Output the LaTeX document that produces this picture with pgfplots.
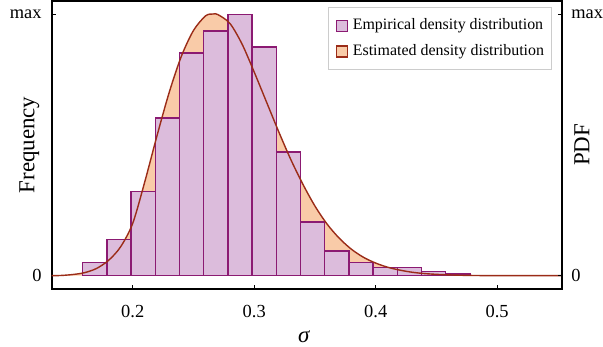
\documentclass[border=0pt]{standalone}
\usepackage{fontspec}
\setmainfont{Liberation Serif}
\usepackage{pgfplots}
\usepackage{pgfplotstable}
\pgfplotsset{compat=1.18}
\definecolor{barfill}{HTML}{DCBCDC}
\definecolor{baredge}{HTML}{8B1A72}
\definecolor{estfill}{HTML}{F9CBA8}
\definecolor{curvec}{HTML}{9B2C18}

\pgfplotstableread{
x y
0.15886 0.050
0.17878 0.139
0.19870 0.321
0.21861 0.603
0.23853 0.851
0.25845 0.935
0.27837 0.999
0.29829 0.874
0.31820 0.473
0.33812 0.206
0.35804 0.095
0.37796 0.050
0.39788 0.031
0.41779 0.031
0.43771 0.015
0.45763 0.0065
0.47755 0
}\bins

\pgfplotstableread{
x y
0.120 0
0.130 0
0.140 0.0005
0.150 0.004
0.160 0.011
0.170 0.027
0.180 0.058
0.190 0.110
0.200 0.200
0.210 0.360
0.220 0.535
0.230 0.700
0.240 0.838
0.250 0.937
0.260 0.993
0.2663 1.000
0.270 0.998
0.280 0.964
0.290 0.885
0.300 0.778
0.310 0.665
0.320 0.552
0.330 0.445
0.340 0.350
0.350 0.266
0.360 0.197
0.370 0.143
0.380 0.101
0.390 0.070
0.400 0.048
0.410 0.032
0.420 0.021
0.430 0.013
0.440 0.008
0.450 0.005
0.460 0.003
0.470 0.0015
0.480 0.0007
0.490 0.0002
0.500 0
0.570 0
}\curve

\begin{document}
\begin{tikzpicture}
\pgfplotsset{
  common/.style={
    scale only axis, width=510bp, height=288bp,
    xmin=0.1333, xmax=0.5530, ymin=-0.0508, ymax=1.0497,
    ytick={0,1}, yticklabels={0,max},
    tick align=inside, major tick length=4bp,
    tick style={black, line width=1bp},
    axis line style={black, line width=2bp},
    tick label style={font=\fontsize{18.5}{20}\selectfont},
    label style={font=\fontsize{23}{26}\selectfont},
    /pgf/number format/assume math mode=true,
  }
}
\begin{axis}[common,
  xtick={0.2,0.3,0.4,0.5}, xtick pos=bottom,
  xticklabel style={anchor=base, yshift=-29bp},
  xticklabels={0.2,0.3,0.4,0.5},
  ytick pos=left,
  yticklabel style={anchor=east, inner sep=0pt, xshift=-10bp},
  xlabel={\textit{σ}},
  xlabel style={at={(axis description cs:0.5,0)}, anchor=base, yshift=-54bp, xshift=-2.5bp},
  ylabel={Frequency},
  ylabel style={at={(axis description cs:-0.0341,0.5)}, anchor=base},
  legend style={at={(axis description cs:0.9804,0.978)}, anchor=north east,
    draw=gray!40, line width=1bp, fill=white,
    font=\fontsize{16}{18}\selectfont,
    inner xsep=7bp, inner ysep=11bp, row sep=10.8bp,
    nodes={inner sep=0pt, text height=11bp, text depth=3.5bp},
    column sep=5bp},
  legend cell align=left,
  legend image code/.code={\draw[#1, line width=1.3bp] (0bp,-5.5bp) rectangle (11bp,5.5bp);},
]
\coordinate (sw) at (rel axis cs:0,0);
\coordinate (ne) at (rel axis cs:1,1);
\addlegendimage{fill=barfill, draw=baredge}
\addlegendentry{Empirical density distribution}
\addlegendimage{fill=estfill, draw=curvec}
\addlegendentry{Estimated density distribution\hspace{8bp}}
\addplot[fill=estfill, draw=none, smooth, forget plot] table[x=x,y=y] {\curve} \closedcycle;
\addplot[ybar interval, fill=barfill, draw=baredge, line width=1.5bp, forget plot] table[x=x,y=y] {\bins};
\addplot[curvec, line width=1.4bp, smooth, forget plot] table[x=x,y=y] {\curve};
\end{axis}
\begin{axis}[common,
  axis x line=none, axis y line*=right,
  yticklabel style={anchor=west, inner sep=0pt, xshift=9.5bp},
  ylabel={PDF},
  ylabel style={at={(axis description cs:1.0545,0.5)}, anchor=base},
]
\addplot[draw=none] coordinates {(0.3,0)};
\end{axis}
\path (sw) ++(-51.7bp,-56bp);
\path (ne) ++(41.3bp,1bp);
\end{tikzpicture}
\end{document}
